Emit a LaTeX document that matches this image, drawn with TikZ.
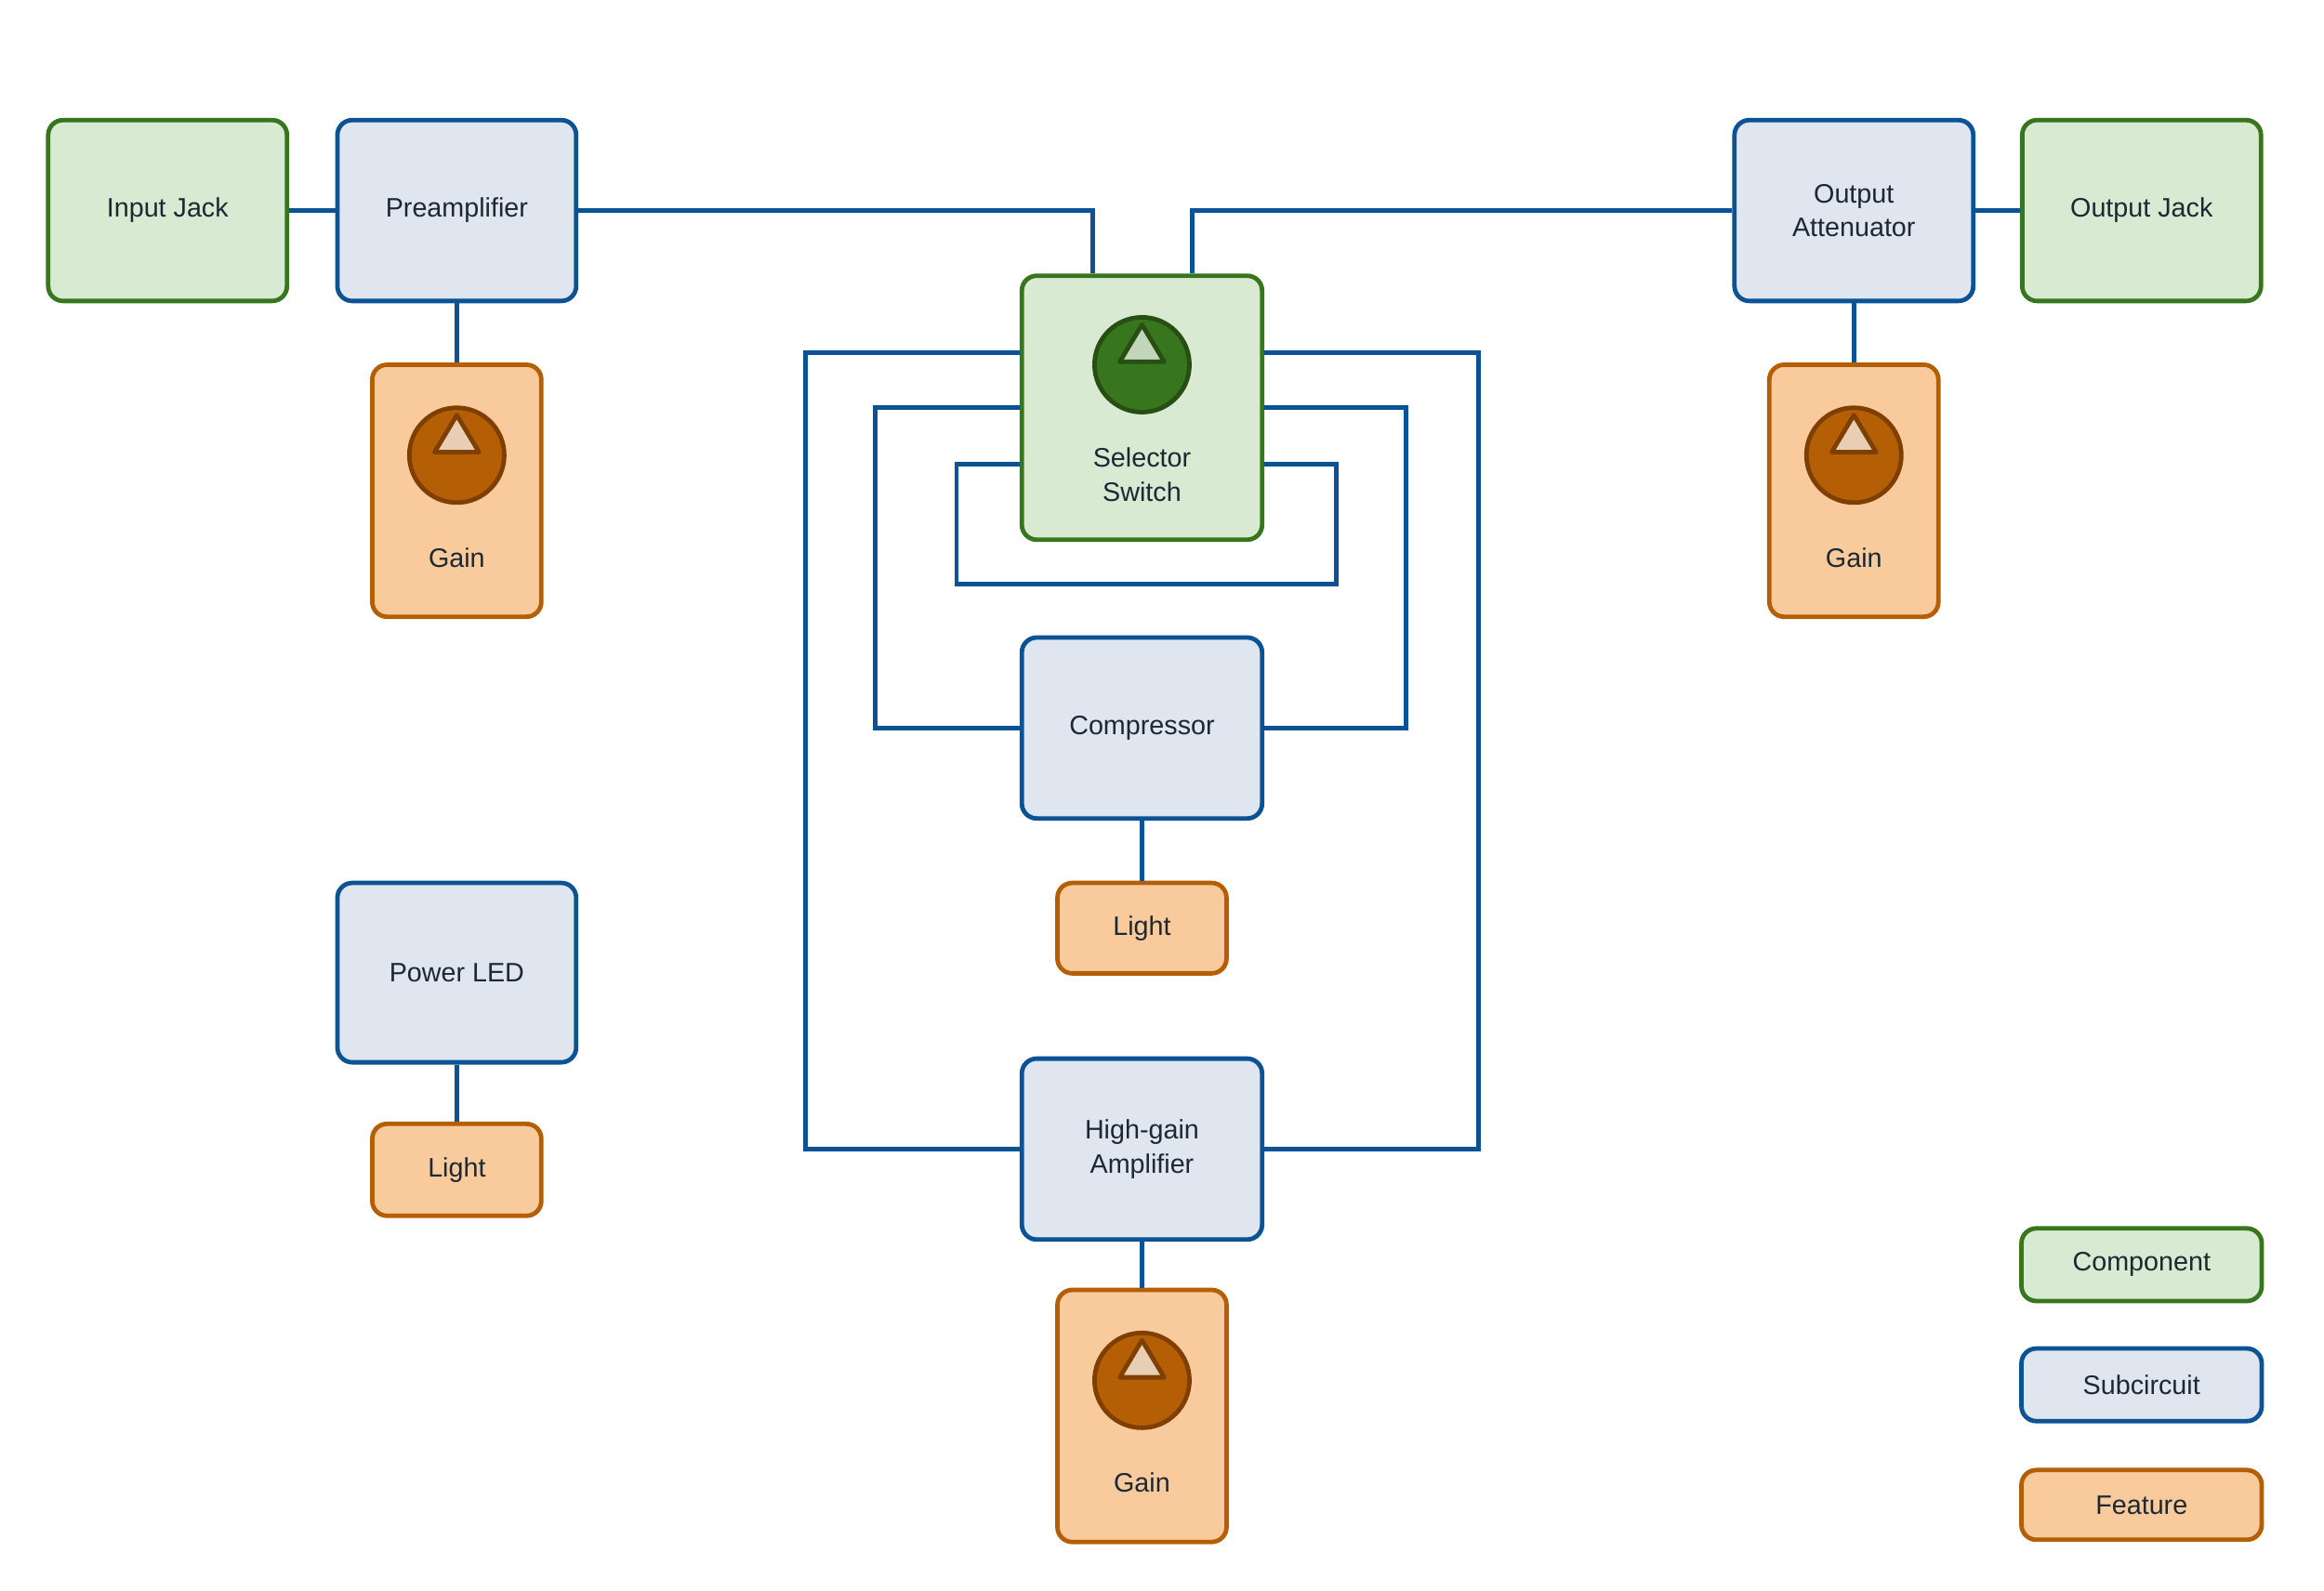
\documentclass[tikz,border=0pt]{standalone}
\usepackage{fontspec}
\setmainfont{Liberation Sans}
\begin{document}
\definecolor{gF}{HTML}{D9EAD3}\definecolor{gD}{HTML}{38761D}\definecolor{gK}{HTML}{274E13}
\definecolor{bF}{HTML}{DFE6F0}\definecolor{bD}{HTML}{0B5394}
\definecolor{oF}{HTML}{F9CB9C}\definecolor{oD}{HTML}{B45F06}\definecolor{oK}{HTML}{7F3F00}
\definecolor{tx}{HTML}{1C2833}
\begin{tikzpicture}[x=1pt,y=-1pt,
  box/.style={draw,rounded corners=10pt,line width=3pt,align=center,inner sep=0pt,text=tx,
    font=\fontsize{18}{23}\selectfont},
  comp/.style={box,fill=gF,draw=gD},
  sub/.style={box,fill=bF,draw=bD},
  feat/.style={box,fill=oF,draw=oD},
  wire/.style={draw=bD,line width=3pt},
  lbl/.style={text=tx,font=\fontsize{18}{23}\selectfont,align=center}]
\useasboundingbox (0,0) rectangle (1567,1072.5);
\newcommand{\knob}[4]{%
  \draw[line width=3pt,draw=#4,fill=#3] (#1,#2) circle (32);
  \draw[line width=3pt,draw=#4,fill=#3!30!white,line join=round] (#1,#2-27) -- (#1+15,#2-2) -- (#1-15,#2-2) -- cycle;}
% nodes
\node[comp,minimum width=161,minimum height=122] (ij) at (113,142) {Input Jack};
\node[sub,minimum width=161,minimum height=122] (pre) at (308,142) {Preamplifier};
\node[feat,minimum width=114,minimum height=170] (g1) at (308,331) {};
\node[comp,minimum width=162,minimum height=178] (sel) at (770,275) {};
\node[sub,minimum width=161,minimum height=122] (oa) at (1250,142) {Output\\Attenuator};
\node[comp,minimum width=161,minimum height=122] (oj) at (1444,142) {Output Jack};
\node[feat,minimum width=114,minimum height=170] (g2) at (1250,331) {};
\node[sub,minimum width=162,minimum height=122] (cmp) at (770,491) {Compressor};
\node[feat,minimum width=114,minimum height=61] (l1) at (770,626) {Light};
\node[sub,minimum width=161,minimum height=121] (led) at (308,656) {Power LED};
\node[feat,minimum width=114,minimum height=62] (l2) at (308,789) {Light};
\node[sub,minimum width=162,minimum height=122] (hg) at (770,775) {High-gain\\Amplifier};
\node[feat,minimum width=114,minimum height=170] (g3) at (770,955) {};
\node[comp,minimum width=162,minimum height=49] (lc) at (1444,853) {Component};
\node[sub,minimum width=162,minimum height=49] (ls) at (1444,934) {Subcircuit};
\node[feat,minimum width=162,minimum height=47] (lf) at (1444,1015) {Feature};
% icons and labels
\knob{308}{307}{oD}{oK}
\node[lbl] (t1) at (308,376) {Gain};
\knob{1250}{307}{oD}{oK}
\node[lbl] (t2) at (1250,376) {Gain};
\knob{770}{931}{oD}{oK}
\node[lbl] (t3) at (770,1000) {Gain};
\knob{770}{246}{gD}{gK}
\node[lbl] (ts) at (770,320) {Selector\\Switch};
% wires
\draw[wire] (ij) -- (pre);
\draw[wire] (pre) -- (g1);
\draw[wire] (pre.east) -| ([xshift=-33pt]sel.north);
\draw[wire] (oa.west) -| ([xshift=34pt]sel.north);
\draw[wire] (oa) -- (oj);
\draw[wire] (oa) -- (g2);
\draw[wire] ([yshift=37pt]sel.west) -- (543,238) |- (hg.west);
\draw[wire] ([yshift=37pt]sel.east) -- (997,238) |- (hg.east);
\draw[wire] (sel.west) -- (590,275) |- (cmp.west);
\draw[wire] (sel.east) -- (948,275) |- (cmp.east);
\draw[wire] ([yshift=-38pt]sel.west) -- (645,313) -- (645,394) -- (901,394) -- (901,313) -- ([yshift=-38pt]sel.east);
\draw[wire] (cmp) -- (l1);
\draw[wire] (hg) -- (g3);
\draw[wire] (led) -- (l2);
\end{tikzpicture}
\end{document}
